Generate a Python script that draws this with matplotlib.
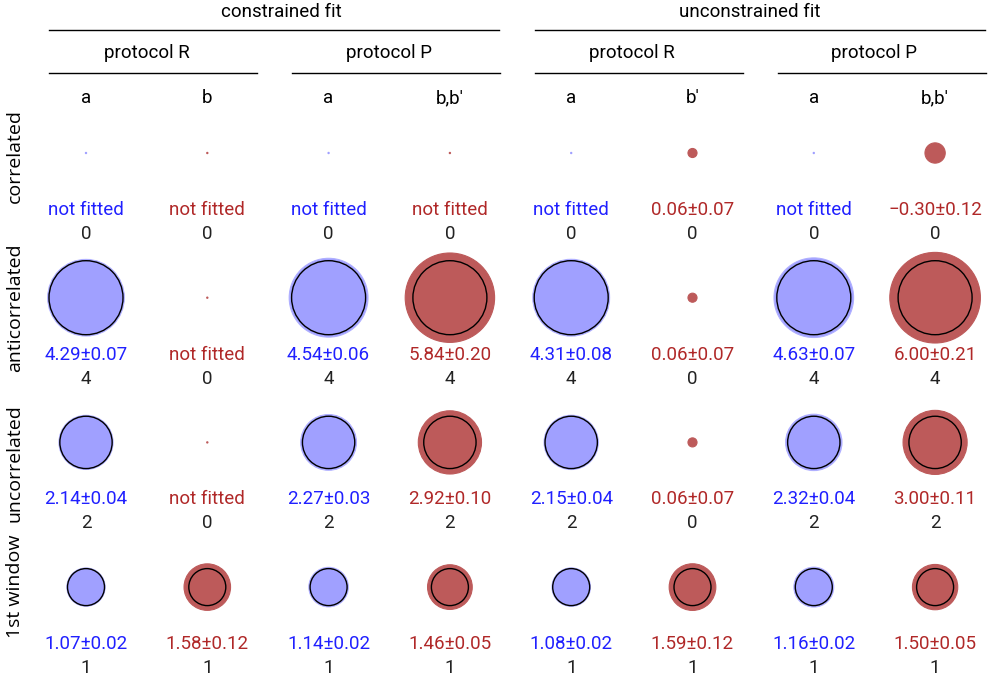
"""
Fitted vs. true amplitudes for each scenario, drawn as area-scaled discs.
Filled disc = fitted value, black outline = true value.
"""

import matplotlib
matplotlib.use("Agg")
import numpy as np
import matplotlib.pyplot as plt
from matplotlib.patches import Circle

# --- data ---
fit_groups = ["constrained fit", "unconstrained fit"]
protocols = ["protocol R", "protocol P", "protocol R", "protocol P"]
col_labels = ["a", "b", "a", "b,b'", "a", "b'", "a", "b,b'"]
row_labels = ["correlated", "anticorrelated", "uncorrelated", "1st window"]

# true amplitudes (rows x columns)
true_vals = [
    [0, 0, 0, 0, 0, 0, 0, 0],
    [4, 0, 4, 4, 4, 0, 4, 4],
    [2, 0, 2, 2, 2, 0, 2, 2],
    [1, 1, 1, 1, 1, 1, 1, 1],
]

# fitted amplitudes, None = parameter not fitted
fit_vals = [
    [None, None, None, None, None, 0.06, None, -0.30],
    [4.29, None, 4.54, 5.84, 4.31, 0.06, 4.63, 6.00],
    [2.14, None, 2.27, 2.92, 2.15, 0.06, 2.32, 3.00],
    [1.07, 1.58, 1.14, 1.46, 1.08, 1.59, 1.16, 1.50],
]
fit_errs = [
    [None, None, None, None, None, 0.07, None, 0.12],
    [0.07, None, 0.06, 0.20, 0.08, 0.07, 0.07, 0.21],
    [0.04, None, 0.03, 0.10, 0.04, 0.07, 0.04, 0.11],
    [0.02, 0.12, 0.02, 0.05, 0.02, 0.12, 0.02, 0.05],
]

# --- layout (pixel units) ---
W, H = 992, 681
X0, DX = 86, 121.3
Y0, DY = 153, 144.7
R_UNIT = 18.5          # disc radius for amplitude 1 (area ~ amplitude)
ROW_LABEL_Y = [156, 308, 463, 586]

BLUE_FILL, BLUE_EDGE, BLUE_TEXT = "#a0a0ff", "#b0b0ff", "#2020ff"
RED_FILL, RED_TEXT = "#bd5a5a", "#b02828"

plt.rcParams["font.family"] = ["Roboto", "DejaVu Sans"]
FS = 13.5

fig = plt.figure(figsize=(W / 100, H / 100), dpi=100)
ax = fig.add_axes([0, 0, 1, 1])
ax.set_xlim(0, W)
ax.set_ylim(H, 0)
ax.set_aspect("equal")
ax.axis("off")

# headers
for g, (name, xc) in enumerate(zip(fit_groups, [281, 750])):
    xs = 49 + g * 486
    ax.text(xc, 12, name, ha="center", va="center", fontsize=FS)
    ax.plot([xs, xs + 450], [30, 30], color="black", lw=1)
for p, name in enumerate(protocols):
    xs = 49 + p * 243
    ax.text(X0 + DX * (2 * p + 0.5), 53, name, ha="center", va="center", fontsize=FS)
    ax.plot([xs, xs + 208], [73, 73], color="black", lw=1)
for j, lab in enumerate(col_labels):
    ax.text(X0 + DX * j, 98, lab, ha="center", va="center", fontsize=FS)

for i, lab in enumerate(row_labels):
    ax.text(15, ROW_LABEL_Y[i], lab, ha="center", va="center", rotation=90,
            fontsize=14, family=["Open Sans", "DejaVu Sans"])

# discs and value labels
for i in range(len(row_labels)):
    yc = Y0 + DY * i
    for j in range(len(col_labels)):
        xc = X0 + DX * j
        blue = (j % 2 == 0)
        fill = BLUE_FILL if blue else RED_FILL
        tcol = BLUE_TEXT if blue else RED_TEXT
        v, e, t = fit_vals[i][j], fit_errs[i][j], true_vals[i][j]

        if v is None:
            ax.add_patch(Circle((xc, yc), 1.2, color=fill, lw=0))
            txt = "not fitted"
        else:
            r = R_UNIT * np.sqrt(abs(v))
            ax.add_patch(Circle((xc, yc), r, facecolor=fill,
                                edgecolor=BLUE_EDGE if blue else fill, lw=0.8))
            txt = f"{v:.2f}±{e:.2f}".replace("-", "\u2212")

        if t > 0:
            ax.add_patch(Circle((xc, yc), R_UNIT * np.sqrt(t), facecolor="none",
                                edgecolor="black", lw=1))

        ax.text(xc, yc + 57, txt, ha="center", va="center", fontsize=FS, color=tcol)
        ax.text(xc, yc + 81, str(t), ha="center", va="center", fontsize=FS, color="#222222")

fig.savefig("out.png", dpi=100)
